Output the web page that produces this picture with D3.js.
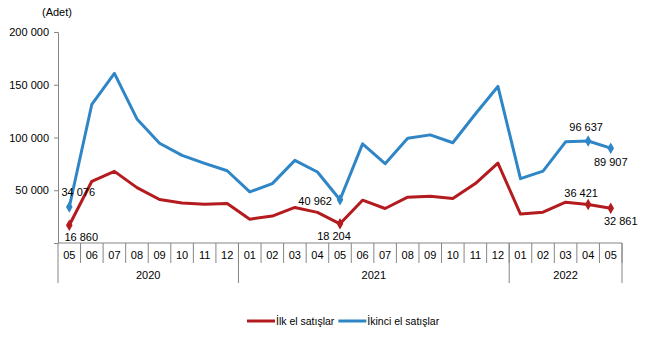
<!DOCTYPE html>
<html>
<head>
<meta charset="utf-8">
<script src="https://cdn.jsdelivr.net/npm/d3@7"></script>
<style>
  body { margin: 0; background: #fff; }
  svg { font-family: "Liberation Sans", Arial, sans-serif; }
</style>
</head>
<body>
<svg width="658" height="340"></svg>
<script>
// aylar ve yıllar
const months = ["05","06","07","08","09","10","11","12",
  "01","02","03","04","05","06","07","08","09","10","11","12",
  "01","02","03","04","05"];
const years = [
  { label: "2020", count: 8 },
  { label: "2021", count: 12 },
  { label: "2022", count: 5 }
];

// ilk el satışlar
const ilkEl = [16860, 58500, 67900, 52500, 41200, 38000, 36800, 37400,
  22600, 25500, 33700, 29000, 18204, 40600, 32700, 43400, 44300, 42200, 56300, 75800,
  27400, 29200, 38700, 36421, 32861];
// ikinci el satışlar
const ikinciEl = [34076, 131500, 160800, 117600, 94600, 83000, 75500, 68500,
  48400, 56300, 78300, 67300, 40962, 94000, 75200, 99300, 102500, 95000, 122300, 148400,
  61000, 68200, 95900, 96637, 89907];

const yTicks = [0, 50000, 100000, 150000, 200000];
const markerIdx = [0, 12, 23, 24];

const svg = d3.select("svg");
const margin = { left: 58, right: 36, top: 32, bottom: 97 };
const width = 658 - margin.left - margin.right;
const height = 340 - margin.top - margin.bottom;

const x = d3.scaleBand().domain(d3.range(months.length)).range([margin.left, margin.left + width]);
const y = d3.scaleLinear().domain([0, 200000]).range([margin.top + height, margin.top]);

const fmt = v => d3.format(",")(v).replace(/,/g, " ");
const axisColor = "#868686";

// y ekseni
const yAxis = svg.append("g")
  .attr("transform", `translate(${margin.left},0)`)
  .call(d3.axisLeft(y).tickValues(yTicks).tickSize(4).tickPadding(5).tickFormat(d => d === 0 ? "" : fmt(d)));
yAxis.select(".domain").attr("stroke", axisColor);
yAxis.selectAll(".tick line").attr("stroke", axisColor);
yAxis.selectAll("text").attr("font-size", 11).attr("fill", "#000").attr("font-family", "Liberation Sans, Arial");

svg.append("text").attr("x", 42).attr("y", 16).attr("font-size", 11).text("(Adet)");

// x ekseni
const y0 = y(0);
svg.append("line").attr("x1", margin.left).attr("x2", margin.left + width)
  .attr("y1", y0).attr("y2", y0).attr("stroke", axisColor);

const step = x.step();
months.forEach((m, i) => {
  svg.append("line")
    .attr("x1", x(i) + step).attr("x2", x(i) + step)
    .attr("y1", y0).attr("y2", y0 + 20).attr("stroke", axisColor);
  svg.append("text")
    .attr("x", x(i) + step / 2).attr("y", y0 + 16)
    .attr("text-anchor", "middle").attr("font-size", 11).text(m);
});

let start = 0;
svg.append("line").attr("x1", margin.left).attr("x2", margin.left)
  .attr("y1", y0).attr("y2", y0 + 40).attr("stroke", axisColor);
years.forEach(yr => {
  const end = start + yr.count - 1;
  const xr = x(end) + step;
  svg.append("line").attr("x1", xr).attr("x2", xr)
    .attr("y1", y0).attr("y2", y0 + 40).attr("stroke", axisColor);
  svg.append("text")
    .attr("x", (x(start) + xr) / 2).attr("y", y0 + 36)
    .attr("text-anchor", "middle").attr("font-size", 11).text(yr.label);
  start += yr.count;
});

// seriler
const series = [
  { name: "İlk el satışlar", values: ilkEl, color: "#b31b1f" },
  { name: "İkinci el satışlar", values: ikinciEl, color: "#2f86c6" }
];

const line = d3.line()
  .x((d, i) => x(i) + step / 2)
  .y(d => y(d));

series.forEach(s => {
  svg.append("path")
    .datum(s.values)
    .attr("fill", "none")
    .attr("stroke", s.color)
    .attr("stroke-width", 3)
    .attr("stroke-linejoin", "round")
    .attr("d", line);

  svg.selectAll(null)
    .data(markerIdx)
    .enter()
    .append("path")
    .attr("d", d3.symbol(d3.symbolDiamond, 38))
    .attr("transform", i => `translate(${x(i) + step / 2},${y(s.values[i])})`)
    .attr("fill", s.color);
});

// değer etiketleri
const labels = [
  { s: 1, i: 0, dx: 9, dy: -11, anchor: "middle" },
  { s: 0, i: 0, dx: 12, dy: 16, anchor: "middle" },
  { s: 1, i: 12, dx: -8, dy: 5, anchor: "end" },
  { s: 0, i: 12, dx: -6, dy: 16, anchor: "middle" },
  { s: 1, i: 23, dx: -2, dy: -10, anchor: "middle" },
  { s: 1, i: 24, dx: 0, dy: 18, anchor: "middle" },
  { s: 0, i: 23, dx: -7, dy: -8, anchor: "middle" },
  { s: 0, i: 24, dx: 10, dy: 17, anchor: "middle" }
];
labels.forEach(l => {
  const v = series[l.s].values[l.i];
  svg.append("text")
    .attr("x", x(l.i) + step / 2 + l.dx)
    .attr("y", y(v) + l.dy)
    .attr("text-anchor", l.anchor)
    .attr("font-size", 11)
    .text(fmt(v));
});

// lejant
const legend = svg.append("g").attr("transform", "translate(247,321)");
let lx = 0;
series.forEach(s => {
  legend.append("line").attr("x1", lx).attr("x2", lx + 28)
    .attr("y1", 0).attr("y2", 0).attr("stroke", s.color).attr("stroke-width", 3);
  const t = legend.append("text").attr("x", lx + 29).attr("y", 4)
    .attr("font-size", 10.5).text(s.name);
  lx += 29 + t.node().getComputedTextLength() + 4;
});
</script>
</body>
</html>
